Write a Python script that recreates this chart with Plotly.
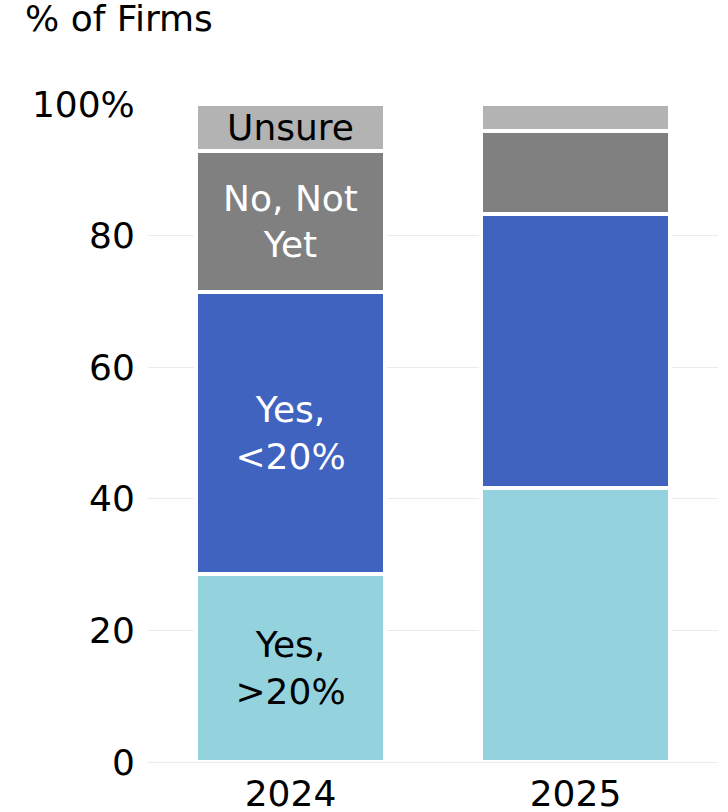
import plotly.graph_objects as go

# Survey shares by year, stacked to 100%
years = ["2024", "2025"]
series_names = ["Yes, >20%", "Yes, <20%", "No, Not Yet", "Unsure"]
yes_over_20 = [28.57, 41.67]
yes_under_20 = [42.86, 41.67]
no_not_yet = [21.43, 12.50]
unsure = [7.14, 4.17]

# In-bar labels appear on the first year's stack only
label_texts = {
    "Yes, >20%": ["Yes,<br>>20%", ""],
    "Yes, <20%": ["Yes,<br><20%", ""],
    "No, Not Yet": ["No, Not<br>Yet", ""],
    "Unsure": ["Unsure", ""],
}

y_tick_vals = [0, 20, 40, 60, 80, 100]
y_tick_text = ["0", "20", "40", "60", "80", "100%"]

colors = {
    "Yes, >20%": "#94D3DE",
    "Yes, <20%": "#3F63BF",
    "No, Not Yet": "#808080",
    "Unsure": "#B3B3B3",
}
label_colors = {
    "Yes, >20%": "black",
    "Yes, <20%": "white",
    "No, Not Yet": "white",
    "Unsure": "black",
}

FONT = "DejaVu Sans, Verdana, sans-serif"
FS = 36

fig = go.Figure()
for name, vals in zip(series_names, [yes_over_20, yes_under_20, no_not_yet, unsure]):
    fig.add_trace(go.Bar(
        x=years,
        y=vals,
        name=name,
        marker=dict(color=colors[name], line=dict(color="white", width=4)),
        width=0.66,
        text=label_texts[name],
        textposition="inside",
        insidetextanchor="middle",
        textangle=0,
        textfont=dict(family=FONT, size=FS, color=label_colors[name]),
        hoverinfo="skip",
    ))

fig.update_layout(
    template="none",
    barmode="stack",
    width=728,
    height=812,
    margin=dict(l=148, r=10, t=104, b=50, autoexpand=False),
    plot_bgcolor="white",
    paper_bgcolor="white",
    showlegend=False,
    font=dict(family=FONT, size=FS, color="black"),
    title=dict(
        text="% of Firms",
        x=25 / 728,
        xref="container",
        xanchor="left",
        y=1 - 6 / 812,
        yref="container",
        yanchor="top",
        font=dict(family=FONT, size=FS, color="black"),
    ),
)

fig.update_xaxes(
    automargin=False,
    showgrid=False,
    showline=False,
    zeroline=False,
    ticks="outside",
    ticklen=0,
    tickcolor="rgba(0,0,0,0)",
    tickfont=dict(family=FONT, size=FS),
)
fig.update_yaxes(
    automargin=False,
    range=[0, 100],
    tickvals=y_tick_vals,
    ticktext=y_tick_text,
    showgrid=True,
    gridcolor="#EBEBEB",
    gridwidth=1,
    zeroline=True,
    zerolinecolor="#EBEBEB",
    zerolinewidth=1,
    showline=False,
    ticks="outside",
    ticklen=5,
    tickcolor="rgba(0,0,0,0)",
    tickfont=dict(family=FONT, size=FS),
)

fig.write_html("out.html")
